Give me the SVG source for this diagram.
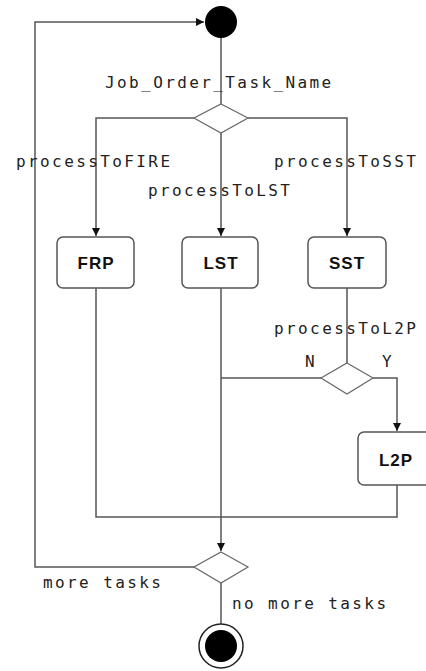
<svg xmlns="http://www.w3.org/2000/svg" width="426" height="671" viewBox="0 0 426 671">
<style>
.bg{fill:#fff}
.c{fill:none;stroke:#555;stroke-width:1.5}
.box{fill:#fff;stroke:#555;stroke-width:1.5}
.dia{fill:#fff;stroke:#666;stroke-width:1.2}
.lbl{font-family:"DejaVu Sans Mono","Liberation Mono",monospace;font-size:16px;letter-spacing:2.4px;fill:#222}
.nm{font-family:"Liberation Sans","DejaVu Sans",sans-serif;font-size:17px;font-weight:bold;fill:#111;text-anchor:middle;letter-spacing:1px}
</style>
<defs>
<marker id="arr" viewBox="0 0 10 10" refX="10" refY="5" markerWidth="8" markerHeight="8" markerUnits="userSpaceOnUse" orient="auto">
<path d="M0,0 L10,5 L0,10 z" fill="#111"/>
</marker>
</defs>
<rect class="bg" x="0" y="0" width="426" height="671"/>
<g id="connectors">
<path class="c" d="M194,567 H35 V22 H204" marker-end="url(#arr)"/>
<path class="c" d="M221,38 V104"/>
<path class="c" d="M194,118 H96 V236" marker-end="url(#arr)"/>
<path class="c" d="M221,133 V236" marker-end="url(#arr)"/>
<path class="c" d="M248,118 H347 V236" marker-end="url(#arr)"/>
<path class="c" d="M347,288 V363"/>
<path class="c" d="M321,378 H221"/>
<path class="c" d="M373,378 H397 V431" marker-end="url(#arr)"/>
<path class="c" d="M221,288 V551" marker-end="url(#arr)"/>
<path class="c" d="M96,288 V517 H397 V485"/>
<path class="c" d="M221,583 V624"/>
</g>
<g id="start"><circle cx="221" cy="22" r="16" fill="#000"/></g>
<g id="decision1"><polygon class="dia" points="221,104 248,118 221,133 194,118"/></g>
<g id="FRP"><rect class="box" x="57" y="237" width="77" height="51" rx="6"/><text class="nm" x="96" y="269">FRP</text></g>
<g id="LST"><rect class="box" x="182" y="237" width="76" height="51" rx="6"/><text class="nm" x="221" y="269">LST</text></g>
<g id="SST"><rect class="box" x="308" y="237" width="78" height="51" rx="6"/><text class="nm" x="347" y="269">SST</text></g>
<g id="decision3"><polygon class="dia" points="347,363 373,378 347,394 321,378"/></g>
<g id="L2P"><rect class="box" x="358" y="432" width="76" height="53" rx="6"/><text class="nm" x="396" y="466">L2P</text></g>
<g id="decision2"><polygon class="dia" points="221,552 248,567 221,583 194,567"/></g>
<g id="end"><circle cx="221" cy="646" r="22" fill="#fff" stroke="#222" stroke-width="1.5"/><circle cx="221" cy="646" r="16" fill="#000"/></g>
<g id="labels">
<text class="lbl" x="105" y="88">Job_Order_Task_Name</text>
<text class="lbl" x="16" y="167">processToFIRE</text>
<text class="lbl" x="274" y="167">processToSST</text>
<text class="lbl" x="148" y="196">processToLST</text>
<text class="lbl" x="274" y="334">processToL2P</text>
<text class="lbl" x="305" y="367">N</text>
<text class="lbl" x="382" y="367">Y</text>
<text class="lbl" x="43" y="588">more tasks</text>
<text class="lbl" x="232" y="609">no more tasks</text>
</g>
</svg>
